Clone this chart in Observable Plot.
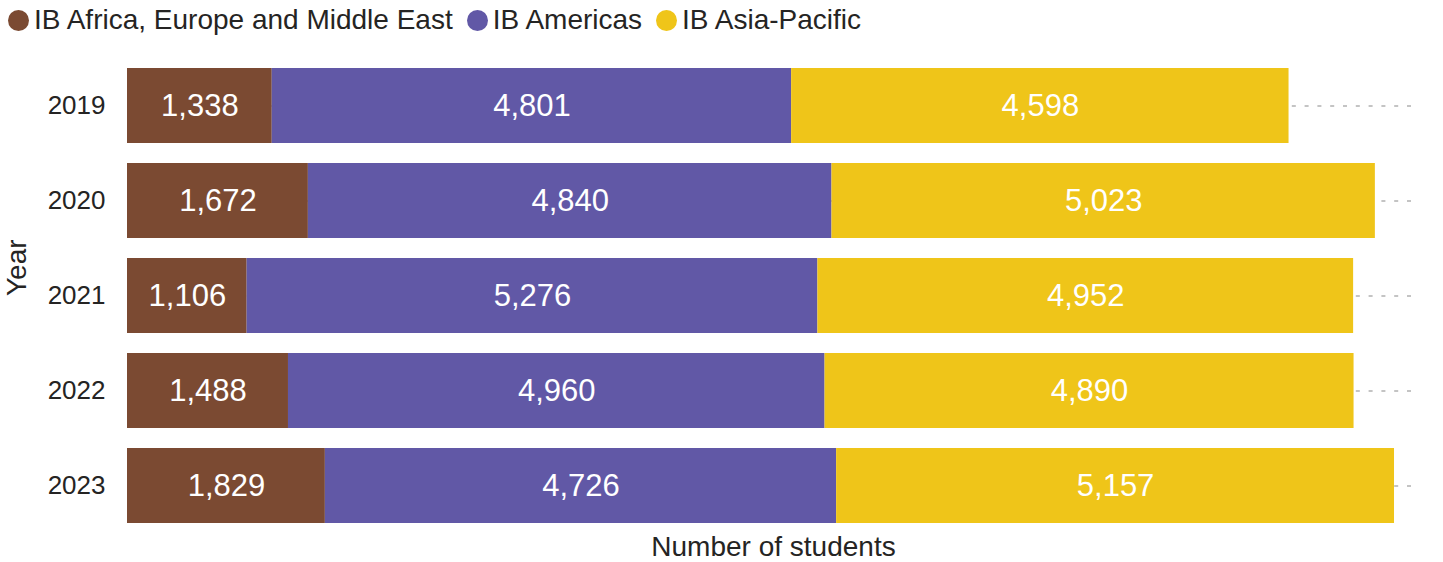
<!DOCTYPE html>
<html>
<head>
<meta charset="utf-8">
<script src="https://cdn.jsdelivr.net/npm/d3@7"></script>
<script src="https://cdn.jsdelivr.net/npm/@observablehq/plot@0.6"></script>
<style>
  html, body { margin: 0; padding: 0; background: #fff; }
  body { width: 1443px; height: 562px; overflow: hidden; font-family: "Liberation Sans", Arial, sans-serif; }
  #legend { height: 40px; display: flex; align-items: center; padding-left: 8px; color: #252423; font-size: 28px; }
  #legend .item { display: flex; align-items: center; margin-right: 14px; }
  #legend .dot { width: 21px; height: 21px; border-radius: 50%; margin-right: 5px; }
</style>
</head>
<body>
<div id="legend"></div>
<div id="chart"></div>
<script>
const years = ["2019", "2020", "2021", "2022", "2023"];
const regions = ["IB Africa, Europe and Middle East", "IB Americas", "IB Asia-Pacific"];
const aeme = [1338, 1672, 1106, 1488, 1829];
const americas = [4801, 4840, 5276, 4960, 4726];
const asiaPacific = [4598, 5023, 4952, 4890, 5157];
const colors = ["#7B4A32", "#6158A6", "#EFC519"];

const series = [aeme, americas, asiaPacific];
const data = [];
years.forEach((y, i) => {
  regions.forEach((r, j) => data.push({year: y, region: r, value: series[j][i]}));
});

const legend = document.getElementById("legend");
regions.forEach((r, j) => {
  const item = document.createElement("div");
  item.className = "item";
  const dot = document.createElement("span");
  dot.className = "dot";
  dot.style.background = colors[j];
  const label = document.createElement("span");
  label.textContent = r;
  item.appendChild(dot);
  item.appendChild(label);
  legend.appendChild(item);
});

const fmt = d3.format(",");
const chart = Plot.plot({
  width: 1443,
  height: 522,
  marginTop: 18,
  marginBottom: 29,
  marginLeft: 127,
  marginRight: 24,
  style: {fontFamily: '"Liberation Sans", Arial, sans-serif', color: "#252423", background: "#fff"},
  x: {domain: [0, 11943], axis: null},
  y: {domain: years, paddingInner: 20 / 95, paddingOuter: 10 / 95, align: 0.5, axis: null},
  color: {domain: regions, range: colors},
  marks: [
    Plot.gridY(years, {stroke: "#c4c4c4", strokeOpacity: 1, strokeWidth: 2, strokeDasharray: "4,8.8"}),
    Plot.barX(data, Plot.stackX({x: "value", y: "year", fill: "region", z: "region"})),
    Plot.text(data, Plot.stackX({x: "value", y: "year", z: "region", text: d => fmt(d.value), fill: "white", fontSize: 31})),
    Plot.axisY({tickSize: 0, tickPadding: 22, fontSize: 26, label: null}),
    Plot.text(["Year"], {frameAnchor: "left", dx: -110, rotate: -90, fontSize: 28, fill: "#252423"}),
    Plot.text(["Number of students"], {frameAnchor: "bottom", dy: 22, fontSize: 28, fill: "#252423"})
  ]
});
document.getElementById("chart").appendChild(chart);
</script>
</body>
</html>
